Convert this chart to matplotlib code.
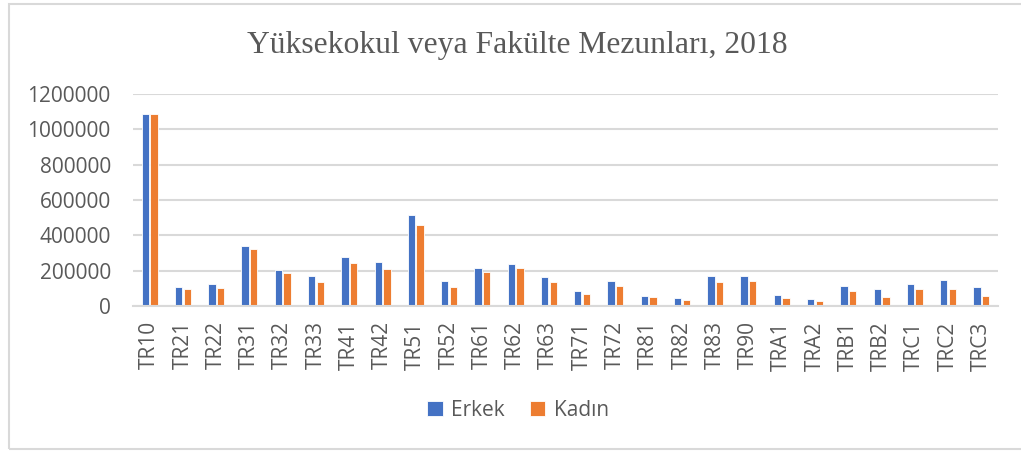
import matplotlib
matplotlib.use("Agg")
import matplotlib.pyplot as plt
import numpy as np
from matplotlib.patches import Rectangle

regions = ["TR10", "TR21", "TR22", "TR31", "TR32", "TR33", "TR41", "TR42", "TR51", "TR52",
           "TR61", "TR62", "TR63", "TR71", "TR72", "TR81", "TR82", "TR83", "TR90", "TRA1",
           "TRA2", "TRB1", "TRB2", "TRC1", "TRC2", "TRC3"]
erkek = [1088000, 109600, 126600, 338000, 206000, 172000, 277800, 247600, 514000, 139900,
         215500, 240000, 166300, 85000, 143600, 58600, 45400, 168200, 170100, 64300,
         41600, 115300, 94500, 122900, 145500, 105800]
kadin = [1088000, 94500, 100200, 325000, 187100, 136000, 241900, 211700, 461200, 105800,
         192800, 213600, 134200, 66200, 111500, 49100, 32100, 134200, 139900, 43500,
         30200, 85000, 49100, 94500, 98300, 58600]
series_names = ["Erkek", "Kadın"]
yticks = [0, 200000, 400000, 600000, 800000, 1000000, 1200000]
title = "Yüksekokul veya Fakülte Mezunları, 2018"

W, H = 1021, 451
fig = plt.figure(figsize=(W / 100, H / 100), dpi=100)
ax = fig.add_axes([133 / W, 1 - 306 / H, (998 - 133) / W, (306 - 94) / H])

# outer chart border
fig.patches.append(Rectangle((9 / W, 1 - 449 / H), (1030 - 9) / W, (449 - 4) / H,
                             transform=fig.transFigure, fill=False,
                             edgecolor="#d9d9d9", linewidth=1.5))

x = np.arange(len(regions))
bw = 0.22
blue = "#4472C4"
orange = "#ED7D31"
ax.bar(x - bw / 2 - 0.02, erkek, bw, color=blue, edgecolor="white", linewidth=0.6,
       label=series_names[0], zorder=3)
ax.bar(x + bw / 2 + 0.02, kadin, bw, color=orange, edgecolor="white", linewidth=0.6,
       label=series_names[1], zorder=3)

ax.set_xlim(-0.5, len(regions) - 0.5)
ax.set_ylim(0, 1200000)
ax.set_yticks(yticks)
ax.set_yticklabels([str(v) for v in yticks])
ax.set_xticks(x)
ax.set_xticklabels(regions, rotation=90)

font = "Open Sans"
fs = 15
for lab in ax.get_yticklabels() + ax.get_xticklabels():
    lab.set_fontfamily(font)
    lab.set_fontsize(fs)
    lab.set_color("#595959")

ax.tick_params(axis="y", length=0, pad=16)
ax.tick_params(axis="x", length=0, pad=11)
ax.grid(axis="y", color="#d9d9d9", linewidth=1.5, zorder=0)
for s in ["top", "right", "left"]:
    ax.spines[s].set_visible(False)
ax.spines["bottom"].set_color("#d9d9d9")
ax.spines["bottom"].set_linewidth(1.5)
ax.spines["bottom"].set_zorder(4)

fig.text(517 / W, 1 - 45 / H, title, ha="center", va="center",
         fontfamily="Liberation Serif", fontsize=22.8, color="#595959")

leg = fig.legend(loc="center", bbox_to_anchor=(518 / W, 1 - 410 / H), ncol=2,
                 frameon=False, handlelength=0.75, handleheight=0.75, handletextpad=0.4,
                 columnspacing=1.2, prop={"family": font, "size": fs})
for t in leg.get_texts():
    t.set_color("#595959")

fig.savefig("out.png", dpi=100, facecolor="white")
